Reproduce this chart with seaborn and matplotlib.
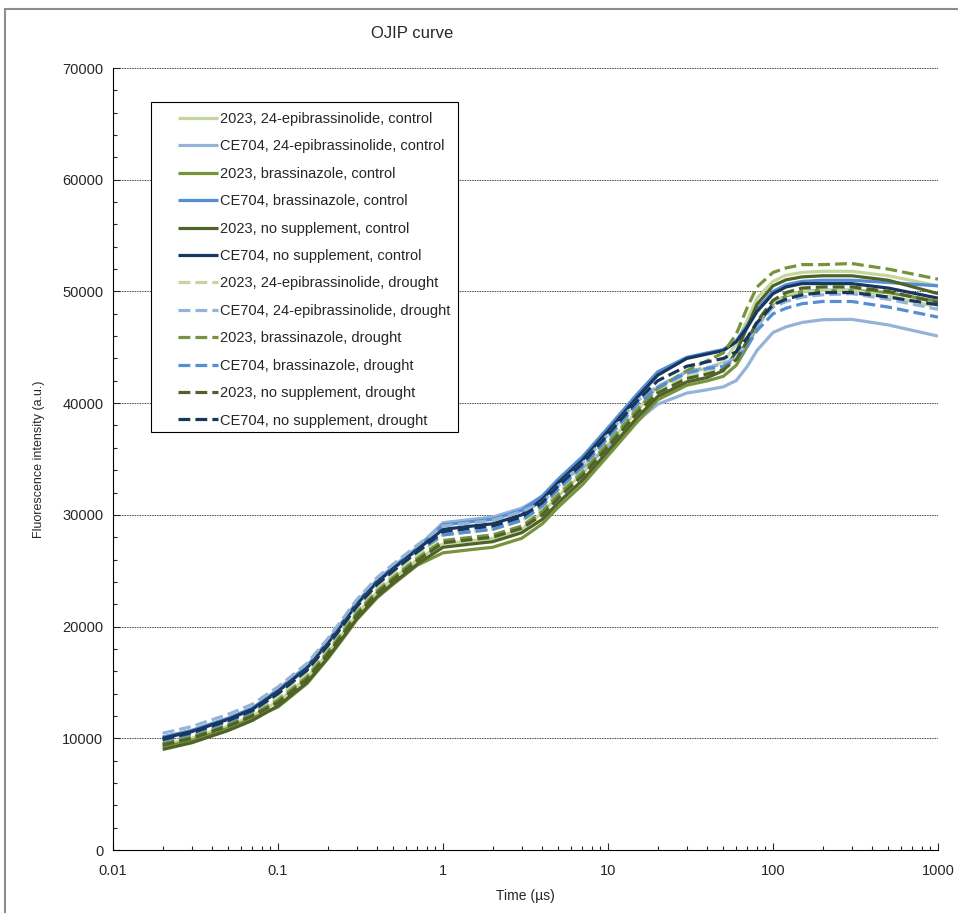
import numpy as np
import pandas as pd
import seaborn as sns
from matplotlib import pyplot as plt
from matplotlib.patches import Rectangle
from matplotlib.ticker import FixedLocator, LogLocator, FuncFormatter, MultipleLocator

# time points (µs) shared by all series
time_us = [0.02, 0.03, 0.05, 0.07, 0.1, 0.15, 0.2, 0.25, 0.3, 0.4, 0.5, 0.7, 1, 1.5, 2, 3, 4, 5, 7, 10, 15,
           20, 30, 40, 50, 60, 70, 80, 100, 120, 150, 200, 300, 500, 1000]

epi_2023_ctrl = [9400, 10000, 11100, 12000, 13300, 15400, 17600, 19500, 21100, 23100, 24300, 26000,
                 27400, 27700, 27900, 28700, 30200, 31700, 33700, 36300, 39300,
                 41500, 42800, 43100, 43700, 45300, 47450, 49400, 50900, 51450, 51700, 51800, 51800, 51400, 50500]
epi_ce704_ctrl = [10100, 10700, 11800, 12700, 14400, 16500, 18700, 20600, 22200, 24200, 25400, 27100,
                  29300, 29600, 29800, 30600, 31600, 32900, 34200, 36100, 38400,
                  39900, 40900, 41200, 41460, 42030, 43310, 44720, 46320, 46830, 47220, 47470, 47500, 47000, 46000]
brz_2023_ctrl = [9200, 9800, 10900, 11800, 12800, 14900, 17100, 19000, 20600, 22600, 23800, 25500,
                 26600, 26900, 27100, 27900, 29200, 30700, 32700, 35300, 38300,
                 40300, 41600, 42000, 42400, 43400, 45100, 46900, 48900, 49600, 50000, 50100, 50100, 49900, 49100]
brz_ce704_ctrl = [10100, 10700, 11800, 12700, 14300, 16400, 18600, 20500, 22100, 24100, 25300, 27000,
                  29100, 29400, 29600, 30400, 31700, 33200, 35200, 37800, 40800,
                  42800, 44100, 44500, 44800, 45600, 47000, 48400, 50000, 50600, 50900, 51000, 51000, 50800, 50500]
nos_2023_ctrl = [9000, 9600, 10700, 11600, 12900, 15000, 17200, 19100, 20700, 22700, 23900, 25600,
                 27100, 27400, 27600, 28400, 29600, 31100, 33100, 35700, 38700,
                 40600, 41900, 42300, 42900, 44600, 46850, 48850, 50500, 51040, 51300, 51400, 51400, 51000, 49800]
nos_ce704_ctrl = [10000, 10600, 11700, 12600, 14200, 16300, 18500, 20400, 22000, 24000, 25200, 26900,
                  28700, 29000, 29200, 30000, 31400, 32900, 34900, 37500, 40500,
                  42500, 44000, 44400, 44700, 45500, 46800, 48200, 49800, 50400, 50700, 50700, 50700, 50300, 49400]
epi_2023_dr = [9600, 10200, 11300, 12200, 13600, 15700, 17900, 19800, 21400, 23400, 24600, 26300,
               28200, 28500, 28700, 29500, 30500, 32000, 34000, 36600, 39600,
               41100, 42400, 42800, 43200, 44000, 45600, 47200, 49000, 49700, 50000, 50100, 50100, 49600, 48600]
epi_ce704_dr = [10450, 11050, 12150, 13050, 14600, 16700, 18900, 20800, 22400, 24400, 25600, 27300,
                29000, 29300, 29500, 30300, 31100, 32600, 34600, 37200, 40200,
                41500, 42800, 43200, 43500, 44100, 45400, 46900, 48600, 49100, 49500, 49700, 49800, 49300, 48400]
brz_2023_dr = [9500, 10100, 11200, 12100, 13400, 15500, 17700, 19600, 21200, 23200, 24400, 26100,
               27700, 28000, 28200, 29000, 30300, 31800, 33800, 36400, 39400,
               41300, 42900, 43800, 44500, 46200, 48600, 50400, 51700, 52100, 52400, 52400, 52500, 52000, 51100]
brz_ce704_dr = [9800, 10400, 11500, 12400, 14000, 16100, 18300, 20200, 21800, 23800, 25000, 26700,
                28200, 28500, 28700, 29500, 30800, 32300, 34300, 36900, 39900,
                41400, 42700, 43100, 43300, 43900, 45100, 46500, 48000, 48500, 48900, 49100, 49100, 48600, 47700]
nos_2023_dr = [9400, 10000, 11100, 12000, 13200, 15300, 17500, 19400, 21000, 23000, 24200, 25900,
               27500, 27800, 28000, 28800, 30000, 31500, 33500, 36100, 39100,
               40900, 42200, 42600, 43000, 43900, 45600, 47300, 49200, 49900, 50300, 50400, 50400, 50000, 49000]
nos_ce704_dr = [9900, 10500, 11600, 12500, 14000, 16100, 18300, 20200, 21800, 23800, 25000, 26700,
                28500, 28800, 29000, 29800, 31100, 32600, 34600, 37200, 40200,
                42000, 43300, 43700, 44000, 44600, 45900, 47200, 48800, 49300, 49700, 49900, 49900, 49500, 48800]

labels = ["2023, 24-epibrassinolide, control", "CE704, 24-epibrassinolide, control",
          "2023, brassinazole, control", "CE704, brassinazole, control",
          "2023, no supplement, control", "CE704, no supplement, control",
          "2023, 24-epibrassinolide, drought", "CE704, 24-epibrassinolide, drought",
          "2023, brassinazole, drought", "CE704, brassinazole, drought",
          "2023, no supplement, drought", "CE704, no supplement, drought"]
series = [epi_2023_ctrl, epi_ce704_ctrl, brz_2023_ctrl, brz_ce704_ctrl, nos_2023_ctrl, nos_ce704_ctrl,
          epi_2023_dr, epi_ce704_dr, brz_2023_dr, brz_ce704_dr, nos_2023_dr, nos_ce704_dr]
colors = ["#C3D69B", "#95B3D7", "#77933C", "#558ED5", "#4F6228", "#17375E"] * 2

rows = []
for lab, vals in zip(labels, series):
    for t, v in zip(time_us, vals):
        rows.append({"time": t, "value": v, "series": lab})
df = pd.DataFrame(rows)

sns.set_style("white")
plt.rcParams['font.family'] = ['Liberation Sans', 'DejaVu Sans']

W, H = 958, 913
fig = plt.figure(figsize=(W / 100, H / 100), dpi=100)
ax = fig.add_axes([113 / W, 1 - 850 / H, 825 / W, 782 / H])

for i, lab in enumerate(labels):
    sub = df[df["series"] == lab]
    dashed = i >= 6
    sns.lineplot(data=sub, x="time", y="value", ax=ax, color=colors[i], label=lab,
                 linewidth=2.3, linestyle="--" if dashed else "-",
                 dashes=(2.6, 1.5) if dashed else None, estimator=None, sort=False)
for ln in ax.get_lines():
    ln.set_dash_capstyle("butt")
    ln.set_solid_capstyle("butt")
    ln.set_solid_joinstyle("round")

ax.set_xscale("log")
ax.set_xlim(0.01, 1000)
ax.set_ylim(0, 70000)
ax.yaxis.set_major_locator(MultipleLocator(10000))
ax.yaxis.set_minor_locator(MultipleLocator(2000))
ax.xaxis.set_major_locator(FixedLocator([0.01, 0.1, 1, 10, 100, 1000]))
ax.xaxis.set_minor_locator(LogLocator(base=10, subs=np.arange(2, 10)))
ax.xaxis.set_major_formatter(FuncFormatter(lambda v, p: f"{v:g}"))
ax.yaxis.set_major_formatter(FuncFormatter(lambda v, p: f"{int(v)}"))
ax.tick_params(axis="both", which="major", direction="in", length=5, width=0.8, labelsize=10.5, pad=7)
ax.tick_params(axis="both", which="minor", direction="in", length=3, width=0.8)
ax.tick_params(axis="x", which="major", pad=10)
ax.tick_params(axis="y", which="both", left=True)
ax.tick_params(axis="x", which="both", bottom=True)

ax.grid(axis="y", which="major", color="black", linestyle=(0, (1, 1)), linewidth=0.6)
ax.grid(axis="x", visible=False)
for s in ["top", "right"]:
    ax.spines[s].set_visible(False)
for s in ["left", "bottom"]:
    ax.spines[s].set_color("black")
    ax.spines[s].set_linewidth(0.8)

ax.set_xlabel("Time (µs)", fontsize=10, labelpad=8)
ax.set_ylabel("Fluorescence intensity (a.u.)", fontsize=9, labelpad=12)

# legend box drawn separately, like the Excel chart's legend frame
leg = ax.legend(loc="upper left", bbox_to_anchor=(178 / W, 1 - 112 / H), bbox_transform=fig.transFigure,
                fontsize=10.5, frameon=False, handlelength=2.75, handletextpad=0.15,
                labelspacing=0.92, borderpad=0, borderaxespad=0)
leg.set_zorder(6)
box = Rectangle((151 / W, 1 - 432 / H), 307 / W, 330 / H, transform=fig.transFigure,
                facecolor="white", edgecolor="black", linewidth=0.8, zorder=5, clip_on=False)
ax.add_artist(box)

fig.text(412 / W, 1 - 33 / H, "OJIP curve", fontsize=12, ha="center", va="center")
fig.patches.append(Rectangle((5 / W, -0.05), 1.2, 1 - 9 / H + 0.05, transform=fig.transFigure,
                             fill=False, edgecolor="#8c8c8c", linewidth=1.5))

fig.savefig("out.png", dpi=100)
